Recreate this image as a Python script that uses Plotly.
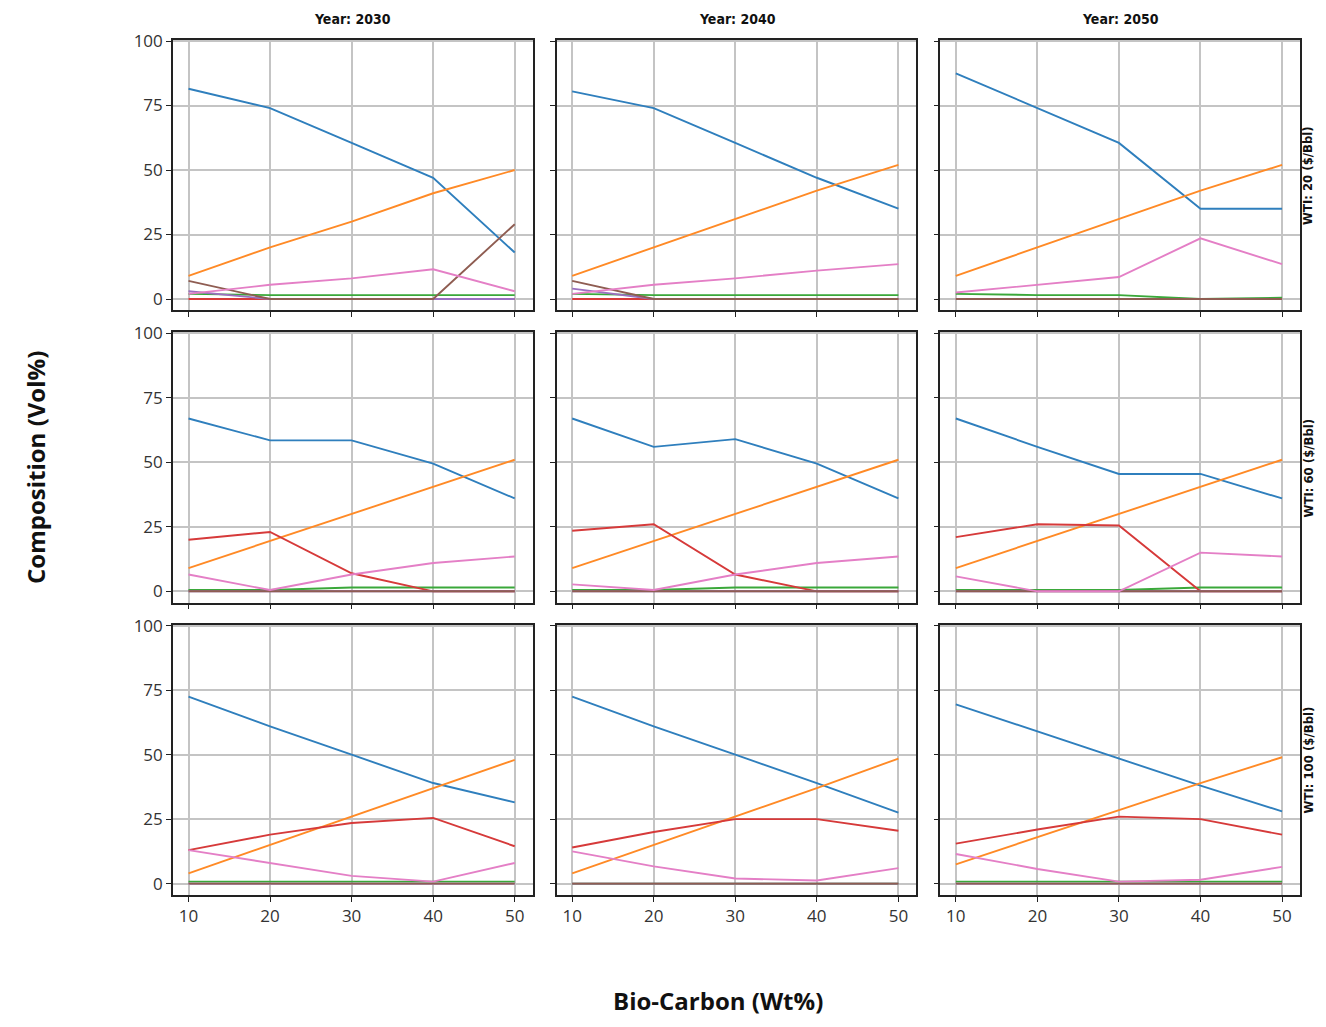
import plotly.graph_objects as go
from plotly.subplots import make_subplots

bio_carbon = [10, 20, 30, 40, 50]
years = ["2030", "2040", "2050"]
wti = ["20", "60", "100"]

# Each series: [row (WTI)][col (Year)] -> values at bio_carbon
blue = [
    [[81.5, 74, 60.5, 47, 18], [80.5, 74, 60.5, 47, 35], [87.5, 74, 60.5, 35, 35]],
    [[67, 58.5, 58.5, 49.5, 36], [67, 56, 59, 49.5, 36], [67, 56, 45.5, 45.5, 36]],
    [[72.5, 61, 50, 39, 31.5], [72.5, 61, 50, 39, 27.5], [69.5, 59, 48.5, 38, 28]],
]
orange = [
    [[9, 20, 30, 41, 50], [9, 20, 31, 42, 52], [9, 20, 31, 42, 52]],
    [[9, 19.5, 30, 40.5, 51], [9, 19.5, 30, 40.5, 51], [9, 19.5, 30, 40.5, 51]],
    [[4, 15, 26, 37, 48], [4, 15, 26, 37, 48.5], [7.5, 18, 28.5, 39, 49]],
]
green = [
    [[2, 1.5, 1.5, 1.5, 1.5], [2, 1.5, 1.5, 1.5, 1.5], [2, 1.5, 1.5, 0, 0.5]],
    [[0.5, 0.5, 1.5, 1.5, 1.5], [0.5, 0.5, 1.5, 1.5, 1.5], [0.5, 0.5, 0.5, 1.5, 1.5]],
    [[0.8, 0.8, 0.8, 0.8, 0.8], [0, 0, 0, 0, 0], [0.8, 0.8, 0.8, 0.8, 0.8]],
]
red = [
    [[0, 0, 0, 0, 0], [0, 0, 0, 0, 0], [0, 0, 0, 0, 0]],
    [[20, 23, 7, 0, 0], [23.5, 26, 6.5, 0, 0], [21, 26, 25.5, 0, 0]],
    [[13, 19, 23.5, 25.5, 14.5], [14, 20, 25, 25, 20.5], [15.5, 21, 26, 25, 19]],
]
purple = [
    [[3, 0, 0, 0, 0], [4, 0, 0, 0, 0], [0, 0, 0, 0, 0]],
    [[0, 0, 0, 0, 0], [0, 0, 0, 0, 0], [0, 0, 0, 0, 0]],
    [[0, 0, 0, 0, 0], [0, 0, 0, 0, 0], [0, 0, 0, 0, 0]],
]
brown = [
    [[7, 0, 0, 0, 29], [7, 0, 0, 0, 0], [0, 0, 0, 0, 0]],
    [[0, 0, 0, 0, 0], [0, 0, 0, 0, 0], [0, 0, 0, 0, 0]],
    [[0, 0, 0, 0, 0], [0, 0, 0, 0, 0], [0, 0, 0, 0, 0]],
]
pink = [
    [[2, 5.5, 8, 11.5, 3], [2, 5.5, 8, 11, 13.5], [2.5, 5.5, 8.5, 23.5, 13.5]],
    [[6.5, 0.5, 6.5, 11, 13.5], [2.7, 0.5, 6.5, 11, 13.5], [5.8, 0, 0, 15, 13.5]],
    [[13, 8, 3, 0.8, 8], [12.5, 6.7, 2, 1.2, 6], [11.5, 5.7, 0.8, 1.5, 6.5]],
]

series = [
    (blue, "#2f7fbd"),
    (orange, "#ff8a26"),
    (green, "#3aa83a"),
    (red, "#d63a3a"),
    (purple, "#9a70c0"),
    (brown, "#8f5d52"),
    (pink, "#e47fc6"),
]

OFF = 8  # page offset of the plot div (body margin)
W, H = 1326 - 2 * OFF, 1027 - 2 * OFF
PW, PH = 1127, 855
L, T = 173 - OFF, 40 - OFF
R, B = W - L - PW, H - T - PH


def px_to_paper_x(px):
    return (px - OFF - L) / PW


def px_to_paper_y(py):
    return 1 - (py - OFF - T) / PH


fig = make_subplots(rows=3, cols=3, shared_xaxes=True, shared_yaxes=True,
                    horizontal_spacing=0.0213, vertical_spacing=0.0257)

for r in range(3):
    for c in range(3):
        for data, color in series:
            fig.add_trace(go.Scatter(x=bio_carbon, y=data[r][c], mode="lines",
                                     line=dict(color=color, width=1.9),
                                     showlegend=False, hoverinfo="skip"),
                          row=r + 1, col=c + 1)

axis_common = dict(showgrid=True, gridcolor="#c4c4c4", gridwidth=1.6, showline=True,
                   linecolor="#222", linewidth=1.6, mirror=True, ticks="outside",
                   ticklen=5, tickwidth=1.3, tickcolor="#222", zeroline=False,
                   tickfont=dict(family="Open Sans", size=17, color="#333"))
fig.update_xaxes(range=[8.1, 52.2], tickvals=bio_carbon, **axis_common)
fig.update_yaxes(range=[-4.4, 100.4], tickvals=[0, 25, 50, 75, 100], **axis_common)

annotations = []
col_centers = [(173 + 532) / 2, (557 + 917) / 2, (940 + 1300) / 2]
for c, yr in enumerate(years):
    annotations.append(dict(text="<b>Year: " + yr + "</b>", x=px_to_paper_x(col_centers[c]),
                            y=px_to_paper_y(19), xref="paper", yref="paper", showarrow=False,
                            font=dict(family="DejaVu Sans Condensed", size=14, color="#111"),
                            xanchor="center", yanchor="middle"))
row_centers = [(40 + 311) / 2, (333 + 603) / 2, (625 + 895) / 2]
for r, w in enumerate(wti):
    annotations.append(dict(text="<b>WTI: " + w + " ($/Bbl)</b>", x=px_to_paper_x(1317),
                            y=px_to_paper_y(row_centers[r]), xref="paper", yref="paper",
                            showarrow=False, textangle=-90,
                            font=dict(family="DejaVu Sans Condensed", size=13, color="#111"),
                            xanchor="right", yanchor="middle"))
annotations.append(dict(text="<b>Composition (Vol%)</b>", x=px_to_paper_x(35),
                        y=px_to_paper_y(468), xref="paper", yref="paper", showarrow=False,
                        textangle=-90, font=dict(family="Open Sans", size=24, color="#111"),
                        xanchor="center", yanchor="middle"))
annotations.append(dict(text="<b>Bio-Carbon (Wt%)</b>", x=px_to_paper_x(718),
                        y=px_to_paper_y(1000), xref="paper", yref="paper", showarrow=False,
                        font=dict(family="Open Sans", size=24, color="#111"),
                        xanchor="center", yanchor="middle"))

fig.update_layout(width=W, height=H, plot_bgcolor="white", paper_bgcolor="white",
                  margin=dict(l=L, r=R, t=T, b=B), annotations=annotations)

fig.write_html("out.html")
